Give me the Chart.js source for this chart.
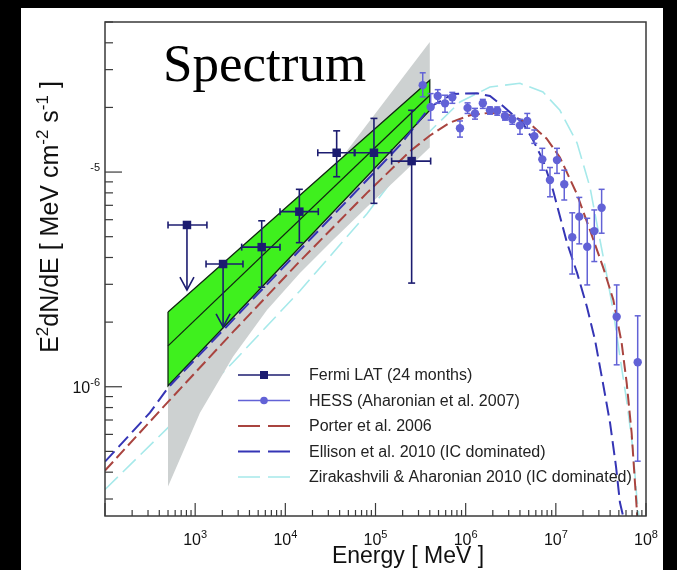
<!DOCTYPE html>
<html>
<head>
<meta charset="utf-8">
<title>Spectrum</title>
<script src="https://cdn.jsdelivr.net/npm/chart.js@4.4.1/dist/chart.umd.min.js"></script>
<style>
  html, body { margin: 0; padding: 0; background: #000; }
  canvas { display: block; }
</style>
</head>
<body>
<canvas id="myChart" width="677" height="570"></canvas>
<script>
// Fermi LAT (24 months): energy [MeV], E2dN/dE [MeV cm-2 s-1]
const fermiE   = [811, 2040, 5470, 14300, 37100, 96100, 251700];
const fermiF   = [5.67e-6, 3.73e-6, 4.47e-6, 6.54e-6, 1.23e-5, 1.23e-5, 1.125e-5];
const fermiElo = [500, 1320, 3280, 8730, 22900, 59200, 151000];
const fermiEhi = [1350, 3390, 8730, 23200, 58200, 151000, 409000];
const fermiFlo = [2.82e-6, 1.90e-6, 2.91e-6, 4.69e-6, 9.51e-6, 7.15e-6, 3.04e-6];
const fermiFhi = [null, null, 5.93e-6, 8.31e-6, 1.556e-5, 1.778e-5, 1.94e-5];
const fermiUL  = [true, true, false, false, false, false, false];

// HESS (Aharonian et al. 2007)
const hessE  = [3.34e5, 4.09e5, 4.90e5, 5.90e5, 7.11e5, 8.65e5, 1.05e6, 1.27e6, 1.55e6, 1.86e6,
                2.24e6, 2.73e6, 3.29e6, 4.00e6, 4.82e6, 5.77e6, 7.08e6, 8.61e6, 1.03e7, 1.24e7,
                1.52e7, 1.82e7, 2.23e7, 2.67e7, 3.22e7, 4.73e7, 8.09e7];
const hessF  = [2.54e-5, 2.01e-5, 2.26e-5, 2.09e-5, 2.23e-5, 1.60e-5, 1.99e-5, 1.875e-5, 2.09e-5, 1.94e-5,
                1.93e-5, 1.82e-5, 1.76e-5, 1.65e-5, 1.73e-5, 1.47e-5, 1.146e-5, 9.18e-6, 1.137e-5, 8.77e-6,
                4.97e-6, 6.20e-6, 4.49e-6, 5.31e-6, 6.82e-6, 2.12e-6, 1.30e-6];
const hessHi = [2.90e-5, 2.32e-5, 2.42e-5, 2.28e-5, 2.35e-5, 1.73e-5, 2.10e-5, 1.98e-5, 2.18e-5, 2.01e-5,
                2.01e-5, 1.91e-5, 1.84e-5, 1.76e-5, 1.875e-5, 1.57e-5, 1.29e-5, 1.05e-5, 1.29e-5, 1.02e-5,
                6.46e-6, 7.62e-6, 6.09e-6, 6.66e-6, 8.31e-6, 2.98e-6, 2.14e-6];
const hessLo = [2.24e-5, 1.745e-5, 2.09e-5, 1.90e-5, 2.09e-5, 1.455e-5, 1.875e-5, 1.764e-5, 1.98e-5, 1.86e-5,
                1.84e-5, 1.745e-5, 1.67e-5, 1.50e-5, 1.60e-5, 1.36e-5, 1.02e-5, 7.67e-6, 9.86e-6, 7.41e-6,
                3.35e-6, 4.63e-6, 2.98e-6, 3.83e-6, 5.19e-6, 1.265e-6, 4.50e-7];

// Porter et al. 2006
const porterE = [100, 500, 2630, 14550, 80500, 2.41e5, 4.02e5, 6.70e5, 1.12e6, 1.86e6, 3.10e6, 5.16e6,
                 7.92e6, 1.11e7, 1.70e7, 2.39e7, 3.36e7, 4.34e7, 5.37e7, 6.11e7, 6.93e7, 7.55e7, 8.0e7];
const porterF = [4.07e-7, 8.5e-7, 1.80e-6, 3.85e-6, 8.0e-6, 1.25e-5, 1.48e-5, 1.70e-5, 1.84e-5, 1.89e-5, 1.84e-5, 1.68e-5,
                 1.43e-5, 1.17e-5, 7.96e-6, 5.37e-6, 3.58e-6, 2.54e-6, 1.60e-6, 1.04e-6, 6.09e-7, 3.56e-7, 2.49e-7];

// Ellison et al. 2010 (IC dominated)
const ellisonE = [100, 315, 500, 2630, 14550, 80500, 1.87e5, 4.02e5, 7.23e5, 1.34e6, 1.86e6, 2.59e6, 3.10e6,
                  4.32e6, 5.58e6, 7.20e6, 9.29e6, 1.33e7, 1.72e7, 2.21e7, 2.72e7, 3.33e7, 3.99e7, 4.65e7, 5.14e7, 5.56e7];
const ellisonF = [4.48e-7, 7.57e-7, 9.89e-7, 2.05e-6, 4.34e-6, 9.18e-6, 1.335e-5, 2.01e-5, 2.31e-5, 2.33e-5, 2.26e-5, 2.03e-5, 1.90e-5,
                  1.69e-5, 1.41e-5, 1.137e-5, 8.25e-6, 4.68e-6, 3.39e-6, 2.36e-6, 1.65e-6, 1.04e-6, 6.80e-7, 4.25e-7, 2.89e-7, 2.51e-7];

// Zirakashvili & Aharonian 2010 (IC dominated)
const zaE = [100, 500, 2630, 14550, 80500, 1.87e5, 4.02e5, 8.65e5, 1.86e6, 4.00e6, 7.20e6, 1.11e7,
             1.72e7, 2.39e7, 2.94e7, 3.70e7, 4.31e7, 5.14e7, 6.15e7, 7.17e7, 7.94e7, 8.36e7];
const zaF = [3.32e-7, 6.45e-7, 1.30e-6, 2.80e-6, 6.40e-6, 1.02e-5, 1.55e-5, 2.12e-5, 2.49e-5, 2.59e-5, 2.36e-5, 1.94e-5,
             1.365e-5, 8.51e-6, 5.37e-6, 3.25e-6, 2.28e-6, 1.38e-6, 8.43e-7, 5.09e-7, 2.98e-7, 2.51e-7];

// Fermi fit band (green) and grey band edges
const greenE      = [500, 400000];
const greenUpperF = [2.23e-6, 2.68e-5];
const greenMidF   = [1.55e-6, 2.28e-5];
const greenLowerF = [1.01e-6, 1.94e-5];
const greyUpperE  = [500, 400000];
const greyUpperF  = [1.01e-6, 4.03e-5];
const greyLowerE  = [500, 1131, 2627, 6259, 14540, 33780, 80440, 186900, 400000];
const greyLowerF  = [3.43e-7, 7.57e-7, 1.38e-6, 2.28e-6, 3.39e-6, 4.83e-6, 6.87e-6, 9.58e-6, 1.30e-5];

// tick labels (powers of ten)
const xTickExps = [3, 4, 5, 6, 7, 8];
const yTickExps = [-6, -5];

const legendLabels = [
    "Fermi LAT (24 months)",
    "HESS (Aharonian et al. 2007)",
    "Porter et al. 2006",
    "Ellison et al. 2010 (IC dominated)",
    "Zirakashvili & Aharonian 2010 (IC dominated)"
];

const FERMI_COL = "#1c1c70";
const HESS_COL = "#6262d6";
const PORTER_COL = "#a9443f";
const ELLISON_COL = "#3535b5";
const ZA_COL = "#a6e9ea";
const SANS = '"Liberation Sans", Arial, sans-serif';

function toXY(xs, ys) {
    return xs.map(function (x, i) { return { x: x, y: ys[i] }; });
}

let greyPoly = toXY(greyUpperE, greyUpperF).concat(toXY(greyLowerE, greyLowerF).reverse());
greyPoly.push(greyPoly[0]);
let greenPoly = toXY(greenE, greenUpperF).concat(toXY(greenE, greenLowerF).reverse());
greenPoly.push(greenPoly[0]);

function drawRich(ctx, parts, x, y, size) {
    parts.forEach(function (p) {
        let s = p.sup ? Math.round(size * 0.68) : size;
        ctx.font = s + "px " + SANS;
        ctx.fillText(p.t, x, p.sup ? y - size * 0.42 : y);
        x += ctx.measureText(p.t).width;
    });
}
function richWidth(ctx, parts, size) {
    let w = 0;
    parts.forEach(function (p) {
        ctx.font = (p.sup ? Math.round(size * 0.68) : size) + "px " + SANS;
        w += ctx.measureText(p.t).width;
    });
    return w;
}
function seg(ctx, x1, y1, x2, y2) {
    ctx.beginPath(); ctx.moveTo(x1, y1); ctx.lineTo(x2, y2); ctx.stroke();
}

const spectrumPlugin = {
    id: "spectrum",
    beforeDraw: function (chart) {
        let ctx = chart.ctx;
        ctx.save();
        ctx.fillStyle = "#000";
        ctx.fillRect(0, 0, chart.width, chart.height);
        ctx.fillStyle = "#fff";
        ctx.fillRect(21, 8, 642, 562);
        ctx.restore();
    },
    afterDatasetsDraw: function (chart) {
        let ctx = chart.ctx, xs = chart.scales.x, ys = chart.scales.y, a = chart.chartArea;
        ctx.save();
        ctx.beginPath();
        ctx.rect(a.left, a.top, a.right - a.left, a.bottom - a.top);
        ctx.clip();

        // HESS error bars
        ctx.strokeStyle = HESS_COL;
        ctx.lineWidth = 1.5;
        hessE.forEach(function (e, i) {
            let px = xs.getPixelForValue(e);
            let y1 = ys.getPixelForValue(hessLo[i]), y2 = ys.getPixelForValue(hessHi[i]);
            seg(ctx, px, y1, px, y2);
            seg(ctx, px - 3, y1, px + 3, y1);
            seg(ctx, px - 3, y2, px + 3, y2);
        });

        // Fermi error bars and upper limits
        ctx.strokeStyle = FERMI_COL;
        ctx.lineWidth = 1.6;
        fermiE.forEach(function (e, i) {
            let px = xs.getPixelForValue(e), py = ys.getPixelForValue(fermiF[i]);
            let xl = xs.getPixelForValue(fermiElo[i]), xr = xs.getPixelForValue(fermiEhi[i]);
            seg(ctx, xl, py, xr, py);
            seg(ctx, xl, py - 3.5, xl, py + 3.5);
            seg(ctx, xr, py - 3.5, xr, py + 3.5);
            let yl = ys.getPixelForValue(fermiFlo[i]);
            if (fermiUL[i]) {
                seg(ctx, px, py, px, yl);
                ctx.beginPath();
                ctx.moveTo(px - 7, yl - 13);
                ctx.lineTo(px, yl);
                ctx.lineTo(px + 7, yl - 13);
                ctx.stroke();
            } else {
                let yh = ys.getPixelForValue(fermiFhi[i]);
                seg(ctx, px, yl, px, yh);
                seg(ctx, px - 3.5, yl, px + 3.5, yl);
                seg(ctx, px - 3.5, yh, px + 3.5, yh);
            }
        });
        ctx.restore();

        ctx.save();
        // frame
        ctx.strokeStyle = "#3a3a3a";
        ctx.lineWidth = 1.5;
        ctx.strokeRect(a.left, a.top, a.right - a.left, a.bottom - a.top);

        // ticks, pointing inward
        ctx.lineWidth = 1.2;
        for (let d = 2; d <= 8; d++) {
            for (let m = 1; m <= 9; m++) {
                let v = m * Math.pow(10, d);
                if (v > 1e8) break;
                let px = xs.getPixelForValue(v);
                seg(ctx, px, a.bottom, px, a.bottom - (m === 1 ? 13 : 6));
            }
        }
        for (let d = -7; d <= -5; d++) {
            for (let m = 1; m <= 9; m++) {
                let v = m * Math.pow(10, d);
                if (v < 2.5e-7 || v > 5e-5) continue;
                let py = ys.getPixelForValue(v);
                seg(ctx, a.left, py, a.left + (m === 1 ? 17 : 8), py);
            }
        }

        // tick labels
        ctx.fillStyle = "#111";
        ctx.textBaseline = "alphabetic";
        xTickExps.forEach(function (n) {
            let parts = [{ t: "10" }, { t: String(n), sup: true }];
            let px = xs.getPixelForValue(Math.pow(10, n));
            let w = richWidth(ctx, parts, 16);
            drawRich(ctx, parts, px - w / 2, 545, 16);
        });
        yTickExps.forEach(function (n) {
            let py = ys.getPixelForValue(Math.pow(10, n));
            // the base "10" of the upper label is hidden in the original figure
            let parts = n === -5 ? [{ t: String(n), sup: true }] : [{ t: "10" }, { t: String(n), sup: true }];
            let w = richWidth(ctx, parts, 16);
            drawRich(ctx, parts, 100 - w, py + 6, 16);
        });

        // axis titles
        let xt = [{ t: "Energy [ MeV ]" }];
        let xw = richWidth(ctx, xt, 23);
        drawRich(ctx, xt, 408 - xw / 2, 563, 23);

        let yt = [{ t: "E" }, { t: "2", sup: true }, { t: "dN/dE [ MeV cm" }, { t: "-2", sup: true },
                  { t: " s" }, { t: "-1", sup: true }, { t: " ]" }];
        let yw = richWidth(ctx, yt, 25);
        ctx.save();
        ctx.translate(58, 217);
        ctx.rotate(-Math.PI / 2);
        drawRich(ctx, yt, -yw / 2, 0, 25);
        ctx.restore();

        // legend
        let lx0 = 238, lx1 = 290, ly0 = 375, ldy = 25.5;
        let styles = [
            { c: FERMI_COL, w: 1.6, dash: [], mark: "rect" },
            { c: HESS_COL, w: 1.5, dash: [], mark: "circle" },
            { c: PORTER_COL, w: 2, dash: [22, 8] },
            { c: ELLISON_COL, w: 2, dash: [22, 8] },
            { c: ZA_COL, w: 1.6, dash: [22, 8] }
        ];
        legendLabels.forEach(function (lab, i) {
            let y = ly0 + i * ldy, s = styles[i];
            ctx.strokeStyle = s.c;
            ctx.lineWidth = s.w;
            ctx.setLineDash(s.dash);
            seg(ctx, lx0, y, lx1, y);
            ctx.setLineDash([]);
            ctx.fillStyle = s.c;
            if (s.mark === "rect") ctx.fillRect(264 - 4, y - 4, 8, 8);
            if (s.mark === "circle") { ctx.beginPath(); ctx.arc(264, y, 3.8, 0, 2 * Math.PI); ctx.fill(); }
            ctx.fillStyle = "#222";
            ctx.font = "16px " + SANS;
            ctx.textBaseline = "middle";
            ctx.fillText(lab, 309, y + 1);
        });

        // overlay title
        ctx.textBaseline = "alphabetic";
        ctx.fillStyle = "#000";
        ctx.font = '53px "Liberation Serif", "Times New Roman", serif';
        ctx.fillText("Spectrum", 163, 81);
        ctx.restore();
    }
};

(function () {
    let ctx = document.getElementById("myChart").getContext("2d");
    let lineBase = { type: "line", pointRadius: 0, fill: false, tension: 0 };
    let datas = {
        datasets: [
            Object.assign({}, lineBase, {
                label: legendLabels[4], data: toXY(zaE, zaF), borderColor: ZA_COL,
                borderWidth: 1.6, borderDash: [18, 7], order: 10
            }),
            Object.assign({}, lineBase, {
                label: "grey band", data: greyPoly, borderColor: "rgba(0,0,0,0)", borderWidth: 0.1,
                backgroundColor: "#cdd1d1", fill: "shape", order: 9
            }),
            Object.assign({}, lineBase, {
                label: "Fermi fit", data: greenPoly, borderColor: "#102810", borderWidth: 1.3,
                backgroundColor: "#3ff01e", fill: "shape", order: 8
            }),
            Object.assign({}, lineBase, {
                label: "Fermi fit mid", data: toXY(greenE, greenMidF), borderColor: "#102810",
                borderWidth: 1.3, order: 7
            }),
            Object.assign({}, lineBase, {
                label: legendLabels[2], data: toXY(porterE, porterF), borderColor: PORTER_COL,
                borderWidth: 2, borderDash: [12, 5], order: 6
            }),
            Object.assign({}, lineBase, {
                label: legendLabels[3], data: toXY(ellisonE, ellisonF), borderColor: ELLISON_COL,
                borderWidth: 2, borderDash: [14, 6], order: 5
            }),
            {
                type: "scatter", label: legendLabels[0], data: toXY(fermiE, fermiF),
                pointStyle: "rect", pointRadius: 6, backgroundColor: FERMI_COL, borderColor: FERMI_COL,
                borderWidth: 0, order: 2
            },
            {
                type: "scatter", label: legendLabels[1], data: toXY(hessE, hessF),
                pointStyle: "circle", pointRadius: 4.2, backgroundColor: HESS_COL, borderColor: HESS_COL,
                borderWidth: 0, order: 1
            }
        ]
    };
    let option = {
        responsive: false,
        animation: false,
        devicePixelRatio: 1,
        events: [],
        layout: { padding: { left: 105, right: 31, top: 22, bottom: 54 } },
        plugins: { legend: { display: false }, tooltip: { enabled: false } },
        scales: {
            x: { type: "logarithmic", min: 100, max: 1e8, display: false },
            y: { type: "logarithmic", min: 2.5e-7, max: 5e-5, display: false }
        }
    };
    new Chart(ctx, {
        type: "scatter",
        data: datas,
        options: option,
        plugins: [spectrumPlugin]
    });
})();
</script>
</body>
</html>
